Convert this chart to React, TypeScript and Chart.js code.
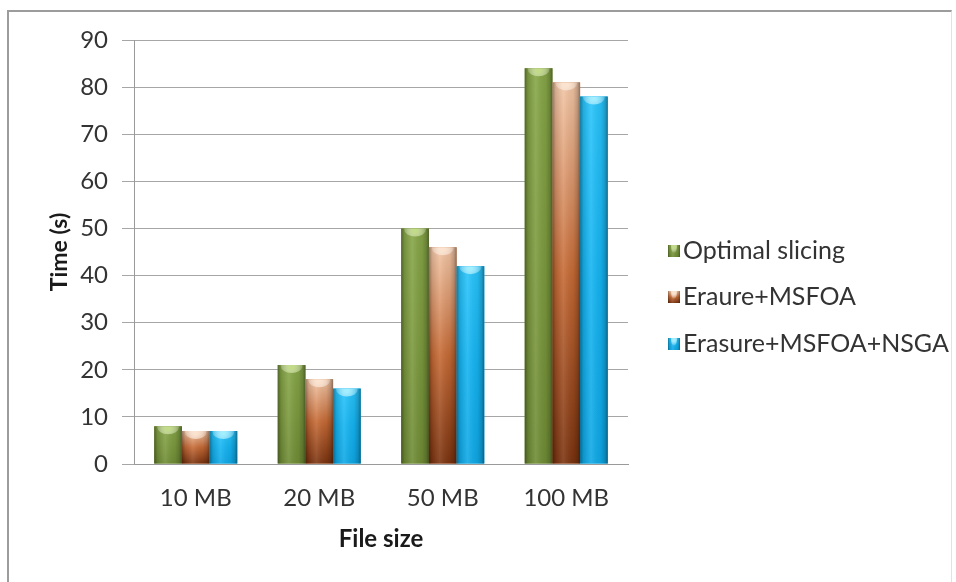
import { useEffect, useRef } from "react";
import { Chart, registerables } from "chart.js";

Chart.register(...registerables);

// Chart data
const fileSizes = ["10 MB", "20 MB", "50 MB", "100 MB"];
const optimalSlicing = [8, 21, 50, 84];
const eraureMsfoa = [7, 18, 46, 81];
const erasureMsfoaNsga = [7, 16, 42, 78];
const seriesLabels = ["Optimal slicing", "Eraure+MSFOA", "Erasure+MSFOA+NSGA"];
const yMin = 0;
const yMax = 90;
const yStep = 10;

const FONT = "Lato, 'DejaVu Sans', sans-serif";

// Shading palettes for the cylinder-like bars
type Palette = { top: string; mid: string; bottom: string; cap: string; base: string };
const palettes: Palette[] = [
  { top: "#86a647", mid: "#7c9a3e", bottom: "#6f8c35", cap: "#c2dc86", base: "#77933c" },
  { top: "#f2c6a6", mid: "#c66a35", bottom: "#7c3410", cap: "#fbe3cf", base: "#c0622c" },
  { top: "#28c4fb", mid: "#14b4f2", bottom: "#0ea8e6", cap: "#a4efff", base: "#12b2f0" },
];

function paintBar(ctx: CanvasRenderingContext2D, left: number, top: number, w: number, h: number, p: Palette) {
  if (h <= 0) return;
  // vertical colour ramp
  const vg = ctx.createLinearGradient(0, top, 0, top + h);
  vg.addColorStop(0, p.top);
  vg.addColorStop(0.5, p.mid);
  vg.addColorStop(1, p.bottom);
  ctx.fillStyle = vg;
  ctx.fillRect(left, top, w, h);
  // horizontal rounding shade
  const hg = ctx.createLinearGradient(left, 0, left + w, 0);
  hg.addColorStop(0, "rgba(0,0,0,0.38)");
  hg.addColorStop(0.12, "rgba(0,0,0,0.12)");
  hg.addColorStop(0.4, "rgba(255,255,255,0.10)");
  hg.addColorStop(0.75, "rgba(0,0,0,0.06)");
  hg.addColorStop(0.9, "rgba(0,0,0,0.2)");
  hg.addColorStop(1, "rgba(0,0,0,0.42)");
  ctx.fillStyle = hg;
  ctx.fillRect(left, top, w, h);
  // top cap highlight
  const capH = Math.min(7, h);
  ctx.save();
  ctx.beginPath();
  ctx.rect(left, top, w, h);
  ctx.clip();
  ctx.beginPath();
  ctx.ellipse(left + w / 2, top + 1, w / 2 - 3, capH, 0, 0, Math.PI * 2);
  const cg = ctx.createRadialGradient(left + w / 2, top + 2, 1, left + w / 2, top + 2, w / 2);
  cg.addColorStop(0, p.cap);
  cg.addColorStop(1, "rgba(255,255,255,0)");
  ctx.fillStyle = cg;
  ctx.fill();
  ctx.restore();
}

const shadedBars = {
  id: "shadedBars",
  afterDatasetsDraw(chart: Chart) {
    const ctx = chart.ctx;
    chart.data.datasets.forEach((_ds, di) => {
      const meta = chart.getDatasetMeta(di);
      meta.data.forEach((el: any) => {
        const { x, y, base, width } = el.getProps(["x", "y", "base", "width"], true);
        const left = x - width / 2;
        paintBar(ctx, left, y, width, base - y, palettes[di]);
      });
    });
  },
};

const sideLegend = {
  id: "sideLegend",
  afterDraw(chart: Chart) {
    const ctx = chart.ctx;
    const x0 = 668;
    const ys = [251, 297, 344];
    ctx.save();
    chart.data.datasets.forEach((ds, i) => {
      const cy = ys[i];
      paintBar(ctx, x0, cy - 6, 12, 12, palettes[i]);
      ctx.fillStyle = "#333333";
      ctx.font = `25px ${FONT}`;
      ctx.textBaseline = "middle";
      ctx.textAlign = "left";
      ctx.fillText(String(ds.label), x0 + 15, cy);
    });
    ctx.restore();
  },
};

export default function App() {
  const ref = useRef<HTMLCanvasElement | null>(null);

  useEffect(() => {
    if (!ref.current) return;
    const series = [optimalSlicing, eraureMsfoa, erasureMsfoaNsga];
    const chart = new Chart(ref.current, {
      type: "bar",
      data: {
        labels: fileSizes,
        datasets: series.map((values, i) => ({
          label: seriesLabels[i],
          data: values,
          backgroundColor: palettes[i].base,
          borderWidth: 0,
          categoryPercentage: 0.672,
          barPercentage: 1,
        })),
      },
      options: {
        responsive: false,
        animation: false,
        devicePixelRatio: 1,
        layout: { padding: { top: 40, right: 328, left: 46, bottom: 28 } },
        plugins: {
          legend: { display: false },
          tooltip: { enabled: false },
        },
        scales: {
          x: {
            afterFit: (scale: any) => {
              scale.height = 90;
            },
            grid: { display: false, drawTicks: false, tickLength: 0 },
            border: { display: true, color: "#9a9a9a", width: 1 },
            ticks: { color: "#333333", font: { family: FONT, size: 24 }, padding: 20 },
            title: {
              display: true,
              text: "File size",
              color: "#1a1a1a",
              font: { family: FONT, size: 24, weight: "bold" },
              padding: { top: 0, bottom: 0 },
            },
          },
          y: {
            min: yMin,
            max: yMax,
            afterFit: (scale: any) => {
              scale.width = 88;
            },
            ticks: {
              stepSize: yStep,
              color: "#333333",
              font: { family: FONT, size: 24 },
              padding: 14,
            },
            grid: { color: "#a6a6a6", lineWidth: 1, tickLength: 12, tickColor: "#a6a6a6" },
            border: { display: true, color: "#9a9a9a", width: 1 },
            title: {
              display: true,
              text: "Time (s)",
              color: "#1a1a1a",
              font: { family: FONT, size: 23, weight: "bold" },
              padding: { top: 0, bottom: 0 },
            },
          },
        },
      },
      plugins: [shadedBars, sideLegend],
    });
    return () => chart.destroy();
  }, []);

  return (
    <div style={{ position: "fixed", left: 0, top: 0, width: 956, height: 582, background: "#ffffff" }}>
      <div
        style={{
          position: "absolute",
          left: 7,
          top: 10,
          width: 942,
          height: 580,
          borderLeft: "2px solid #9c9c9c",
          borderTop: "2px solid #9c9c9c",
          borderRight: "1px solid #e2e2e2",
        }}
      />
      <canvas ref={ref} width={956} height={582} style={{ position: "absolute", left: 0, top: 0 }} />
    </div>
  );
}
